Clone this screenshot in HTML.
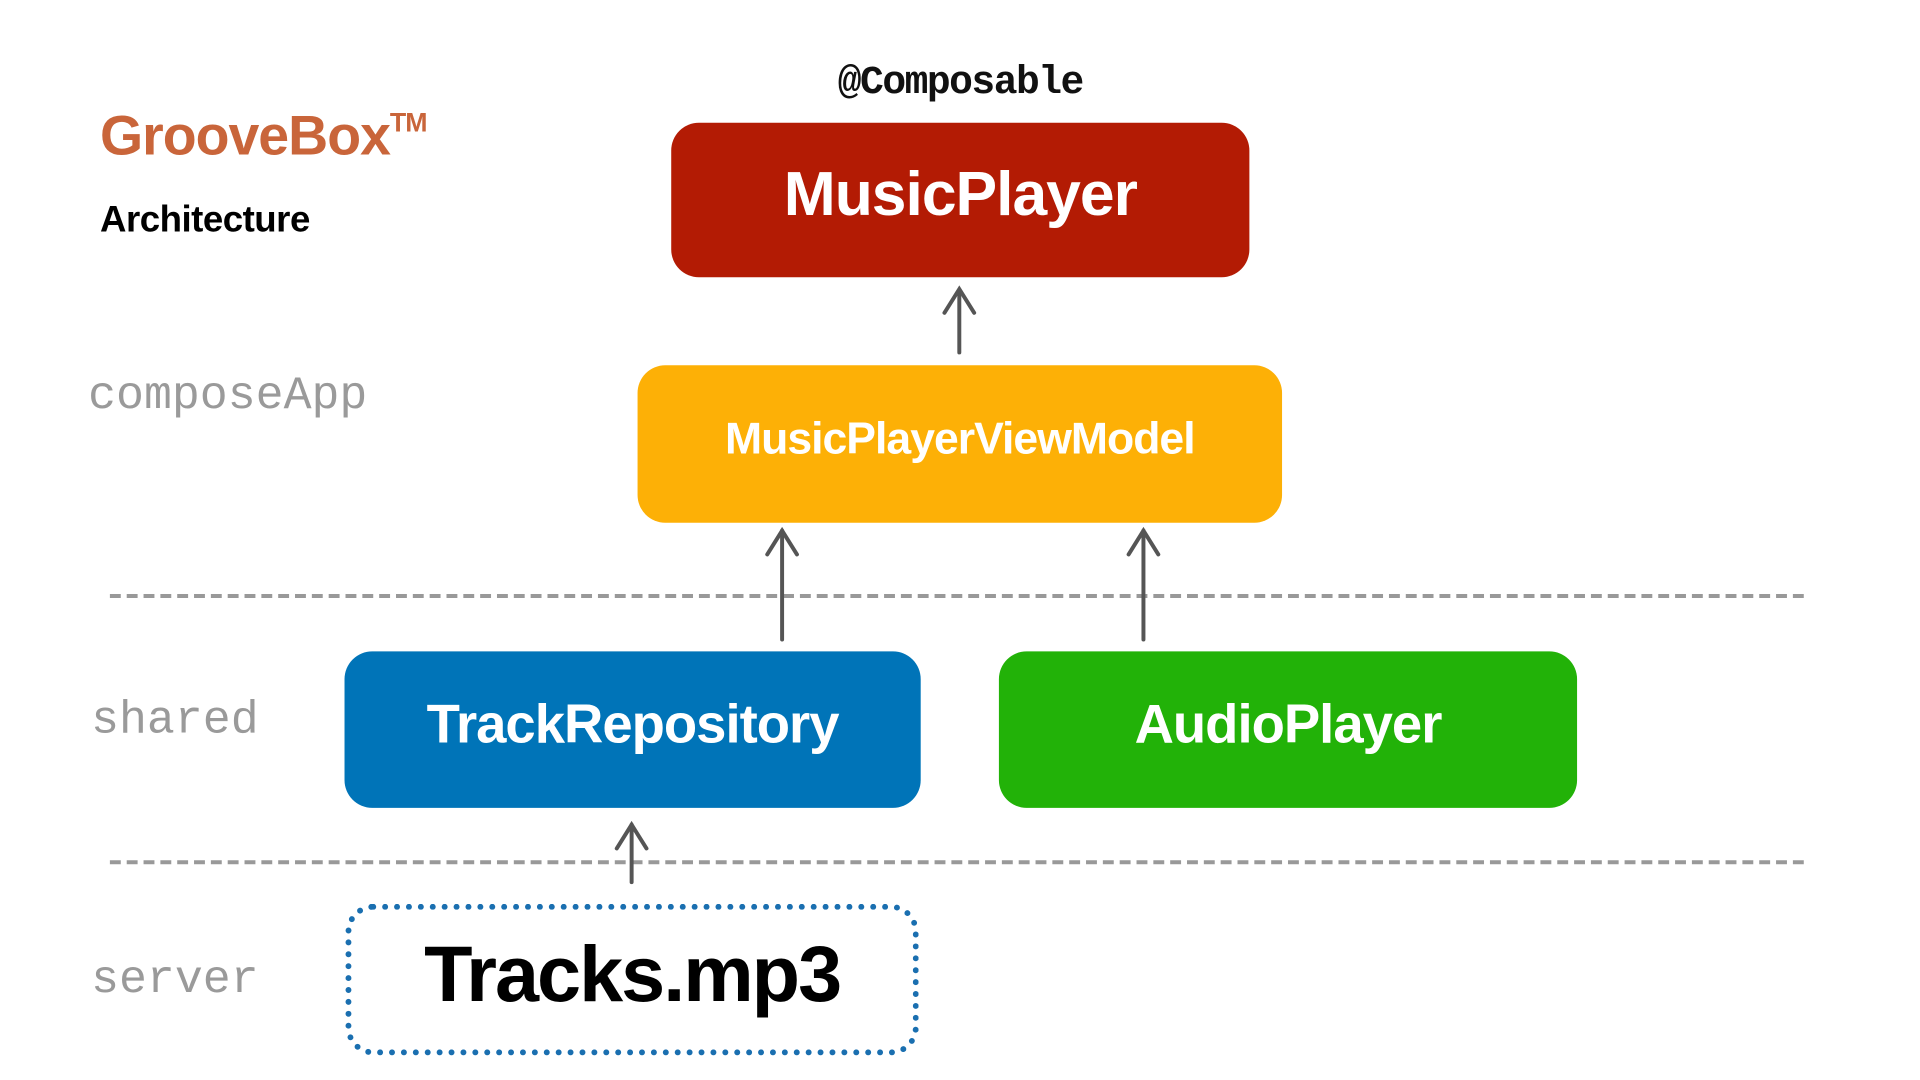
<!DOCTYPE html>
<html><head><meta charset="utf-8"><style>
html,body{margin:0;padding:0;background:#fff;}
body{width:1920px;height:1080px;position:relative;overflow:hidden;font-family:"Liberation Sans",sans-serif;}
#w{position:absolute;left:0;top:0;width:1920px;height:1080px;transform:scale(0.99);transform-origin:0 0;}
.t{position:absolute;white-space:nowrap;}
.box{position:absolute;border-radius:28px;color:#fff;font-weight:bold;display:flex;align-items:center;justify-content:center;letter-spacing:-1px;box-sizing:border-box;padding-bottom:12px;}
.lbl{position:absolute;font-family:"Liberation Mono",monospace;color:#9a9a9a;font-size:47px;line-height:1;}
</style></head><body><div id="w">
<div class="t" style="left:101px;top:104px;font-size:56px;font-weight:bold;color:#c9653a;letter-spacing:-1px;">GrooveBox<span style="font-size:27px;vertical-align:23px;">TM</span></div>
<div class="t" style="left:101px;top:201px;font-size:37px;font-weight:bold;color:#000;letter-spacing:-0.5px;">Architecture</div>
<div class="t" style="left:820px;top:62px;width:300px;text-align:center;font-family:'Liberation Mono',monospace;font-size:40px;font-weight:bold;color:#111;letter-spacing:-1.5px;">@Composable</div>

<div class="box" style="left:678px;top:124px;width:584px;height:156px;background:#b31b04;font-size:63px;">MusicPlayer</div>
<div class="box" style="left:644px;top:369px;width:651px;height:159px;background:#fdb006;font-size:45px;">MusicPlayerViewModel</div>
<div class="box" style="left:348px;top:658px;width:582px;height:158px;background:#0074b8;font-size:55px;">TrackRepository</div>
<div class="box" style="left:1009px;top:658px;width:584px;height:158px;background:#22b208;font-size:55px;">AudioPlayer</div>
<div class="box" style="left:349px;top:913px;width:579px;height:153px;border:6px dotted #1a6fb0;color:#000;font-size:80px;letter-spacing:-2px;">Tracks.mp3</div>

<div class="lbl" style="left:89px;top:377px;">composeApp</div>
<div class="lbl" style="left:92px;top:705px;">shared</div>
<div class="lbl" style="left:92px;top:967px;">server</div>

<svg style="position:absolute;left:0;top:0" width="1920" height="1080">
<g stroke="#999" stroke-width="4" stroke-dasharray="11 6">
<line x1="111" y1="602" x2="1827" y2="602"/>
<line x1="111" y1="871" x2="1827" y2="871"/>
</g>
<g stroke="#555" stroke-width="4" fill="none" stroke-linecap="round">
<line x1="969" y1="356" x2="969" y2="293"/><polyline points="954,316 969,292 984,316"/>
<line x1="790" y1="646" x2="790" y2="536"/><polyline points="775,560 790,536 805,560"/>
<line x1="1155" y1="646" x2="1155" y2="536"/><polyline points="1140,560 1155,536 1170,560"/>
<line x1="638" y1="891" x2="638" y2="833"/><polyline points="623,857 638,833 653,857"/>
</g>
</svg>
</div></body></html>
